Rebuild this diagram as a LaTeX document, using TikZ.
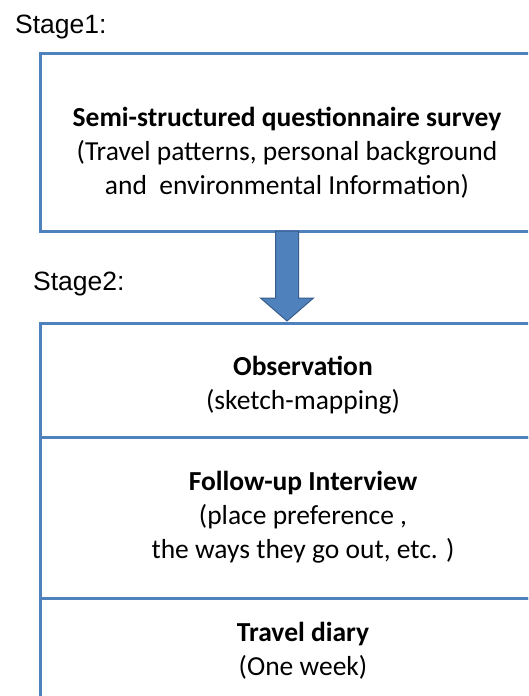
\documentclass[tikz,border=0pt]{standalone}
\usepackage{fontspec}
\setmainfont{Carlito}
\newfontfamily\labelfont{Liberation Sans}
\usetikzlibrary{calc,positioning}
\definecolor{boxblue}{HTML}{4F81BD}
\definecolor{arrowedge}{HTML}{385D8A}

\begin{document}
\begin{tikzpicture}[x=1pt, y=-1pt,
  stage/.style={anchor=west, font=\labelfont\fontsize{26.5}{30}\selectfont, inner sep=0pt},
  blk/.style={draw=boxblue, line width=3pt, outer sep=0pt, inner sep=0pt, align=center, font=\fontsize{27.5}{34}\selectfont},
  part/.style={blk, minimum width=526pt}
]
\useasboundingbox (0,0) rectangle (528,696);
\clip (0,0) rectangle (528,696);
\fill[white] (0,0) rectangle (528,696);
\node[stage] (st1) at (15,27) {Stage1:};
\node[stage] (st2) at (33,284) {Stage2:};
\node[blk, minimum width=494pt, minimum height=178pt, text height=112pt, text depth=7pt, anchor=north west] (survey) at (40,53) {\textbf{Semi-structured questionnaire survey}\\(Travel patterns, personal background\\and\ \ environmental Information)};
\node[part, minimum height=114pt, text height=66pt, text depth=7pt, anchor=north west] (obs) at (40,323) {\textbf{Observation}\\(sketch-mapping)};
\node[part, minimum height=161pt, below=0pt of obs] (intv) {\textbf{Follow-up Interview}\\(place preference ,\\the ways they go out, etc. )};
\node[part, minimum height=105pt, below=0pt of intv] (diary) {\textbf{Travel diary}\\(One week)};
% block arrow between the stages
\coordinate (tip) at (survey.south |- obs.north);
\filldraw[fill=boxblue, draw=arrowedge, line width=1pt]
  ($(survey.south)+(-11.5,0)$) -- ($(survey.south)+(11.5,0)$) -- ($(tip)+(11.5,-25)$)
  -- ($(tip)+(26.5,-25)$) -- ($(tip)+(0,-2)$) -- ($(tip)+(-26.5,-25)$)
  -- ($(tip)+(-11.5,-25)$) -- cycle;
\end{tikzpicture}
\end{document}
